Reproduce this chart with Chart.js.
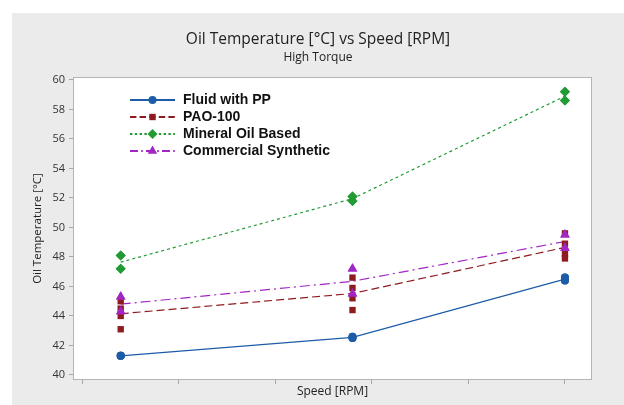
<!DOCTYPE html>
<html>
<head>
<meta charset="utf-8">
<script src="https://cdn.jsdelivr.net/npm/chart.js@4/dist/chart.umd.min.js"></script>
<style>
  html, body { margin: 0; padding: 0; background: #ffffff; }
  #frame { position: absolute; left: 12px; top: 13px; width: 612px; height: 392px; background: #ebebeb; }
  canvas { display: block; }
</style>
</head>
<body>
<div id="frame"><canvas id="c" width="612" height="392"></canvas></div>
<script>
// Speeds tested [RPM] and axis ticks
const speeds = [1200, 2400, 3500];
const speedTicks = [1000, 1500, 2000, 2500, 3000, 3500];
const tempTicks = [40, 42, 44, 46, 48, 50, 52, 54, 56, 58, 60];

// Series names
const seriesNames = ['Fluid with PP', 'PAO-100', 'Mineral Oil Based', 'Commercial Synthetic'];

// Repeated oil temperature readings [°C] at each speed
const fluidPP = [[41.3, 41.3, 41.3, 41.3], [42.6, 42.6, 42.5, 42.5], [46.6, 46.6, 46.4, 46.4]];
const pao100 = [[45.0, 44.5, 44.0, 43.1], [46.6, 45.9, 45.2, 44.4], [49.6, 48.9, 48.2, 47.9]];
const mineralOil = [[48.1, 48.1, 47.2, 47.2], [52.1, 52.1, 51.8, 51.8], [59.2, 59.2, 58.6, 58.6]];
const commercialSynthetic = [[45.3, 45.3, 44.3, 44.3], [47.2, 47.2, 45.5, 45.5], [49.5, 49.5, 48.6, 48.6]];

const styles = [
  { color: '#1d5ca6', marker: 'circle', radius: 4, dash: [] },
  { color: '#8e1b1e', marker: 'rect', radius: 4.5, dash: [8, 4] },
  { color: '#239b35', marker: 'rectRot', radius: 5, dash: [3, 3] },
  { color: '#a226c4', marker: 'triangle', radius: 5.5, dash: [10, 4, 2, 4] }
];
const readings = [fluidPP, pao100, mineralOil, commercialSynthetic];

const mean = a => a.reduce((s, v) => s + v, 0) / a.length;

const datasets = [];
// connecting lines through the group means
readings.forEach((groups, i) => {
  datasets.push({
    type: 'line',
    label: seriesNames[i] + ' mean',
    data: groups.map((g, k) => ({ x: speeds[k], y: mean(g) })),
    borderColor: styles[i].color,
    borderWidth: 1.2,
    borderDash: styles[i].dash,
    pointRadius: 0,
    fill: false,
    tension: 0,
    order: 10 - i
  });
});
// individual readings
readings.forEach((groups, i) => {
  const pts = [];
  groups.forEach((g, k) => g.forEach(v => pts.push({ x: speeds[k], y: v })));
  datasets.push({
    type: 'scatter',
    label: seriesNames[i],
    data: pts,
    backgroundColor: styles[i].color,
    borderColor: styles[i].color,
    borderWidth: 0,
    pointStyle: styles[i].marker,
    pointRadius: styles[i].radius,
    pointHoverRadius: styles[i].radius,
    showLine: false,
    order: 4 - i
  });
});

// white plot area with a grey frame
const plotFrame = {
  id: 'plotFrame',
  beforeDraw(chart) {
    const { ctx, chartArea: a } = chart;
    ctx.save();
    ctx.fillStyle = '#ffffff';
    ctx.fillRect(a.left, a.top, a.right - a.left, a.bottom - a.top);
    ctx.restore();
  },
  beforeDatasetsDraw(chart) {
    const { ctx, chartArea: a } = chart;
    ctx.save();
    ctx.strokeStyle = '#b4b4b4';
    ctx.lineWidth = 1;
    ctx.strokeRect(Math.round(a.left) + 0.5, Math.round(a.top) + 0.5,
      Math.round(a.right - a.left) - 1, Math.round(a.bottom - a.top) - 1);
    ctx.restore();
  }
};

// legend inside the plot area: line sample with marker, then the name
const insetLegend = {
  id: 'insetLegend',
  afterDatasetsDraw(chart) {
    const { ctx } = chart;
    const x0 = 118, x1 = 163, tx = 171;
    const rows = [87, 104, 121, 138];
    ctx.save();
    seriesNames.forEach((name, i) => {
      const s = styles[i];
      const y = rows[i];
      ctx.strokeStyle = s.color;
      ctx.lineWidth = 2;
      ctx.setLineDash(s.dash.length ? s.dash.map(d => d * 0.8) : []);
      ctx.beginPath();
      ctx.moveTo(x0, y);
      ctx.lineTo(x1, y);
      ctx.stroke();
      ctx.setLineDash([]);
      ctx.fillStyle = s.color;
      Chart.helpers.drawPoint(ctx, {
        pointStyle: s.marker, radius: s.radius, borderWidth: 0, rotation: 0
      }, (x0 + x1) / 2, y);
      ctx.fillStyle = '#111111';
      ctx.font = 'bold 14px "Liberation Sans", Arial, sans-serif';
      ctx.textBaseline = 'middle';
      ctx.textAlign = 'left';
      ctx.fillText(name, tx, y);
    });
    ctx.restore();
  }
};

new Chart(document.getElementById('c'), {
  data: { datasets },
  options: {
    responsive: false,
    animation: false,
    layout: { padding: 0 },
    plugins: {
      legend: { display: false },
      tooltip: { enabled: false },
      title: {
        display: true,
        text: 'Oil Temperature [°C] vs Speed [RPM]',
        color: '#222222',
        font: { family: '"Open Sans", sans-serif', size: 15.5, weight: '500' },
        padding: { top: 17.7, bottom: 0 }
      },
      subtitle: {
        display: true,
        text: 'High Torque',
        color: '#222222',
        font: { family: '"Open Sans", sans-serif', size: 12 },
        padding: { top: 1.5, bottom: 11.8 }
      }
    },
    scales: {
      x: {
        type: 'linear',
        position: 'bottom',
        min: 953,
        max: 3640,
        afterBuildTicks: s => { s.ticks = speedTicks.map(v => ({ value: v })); },
        afterFit: s => { s.height = 25; },
        ticks: { display: false },
        grid: { drawOnChartArea: false, drawTicks: true, tickLength: 4, color: '#a8a8a8' },
        border: { display: false },
        title: {
          display: true,
          text: 'Speed [RPM]',
          color: '#222222',
          font: { family: '"Open Sans", sans-serif', size: 12 },
          padding: { top: 0, bottom: 5.8 }
        }
      },
      y: {
        type: 'linear',
        min: 39.66,
        max: 60.2,
        afterBuildTicks: s => { s.ticks = tempTicks.map(v => ({ value: v })); },
        afterFit: s => { s.width = 61; },
        ticks: {
          color: '#333333',
          padding: 4,
          font: { family: '"Open Sans", sans-serif', size: 11 }
        },
        grid: { drawOnChartArea: false, drawTicks: true, tickLength: 4, color: '#a8a8a8' },
        border: { display: false },
        title: {
          display: true,
          text: 'Oil Temperature [°C]',
          color: '#222222',
          font: { family: '"Open Sans", sans-serif', size: 11.5 },
          padding: { top: 19.1, bottom: 0 }
        }
      },
      // empty margin to the right of the plot area
      yRight: {
        type: 'linear',
        position: 'right',
        display: true,
        afterFit: s => { s.width = 32; },
        ticks: { display: false },
        grid: { display: false },
        border: { display: false }
      }
    }
  },
  plugins: [plotFrame, insetLegend]
});
</script>
</body>
</html>
